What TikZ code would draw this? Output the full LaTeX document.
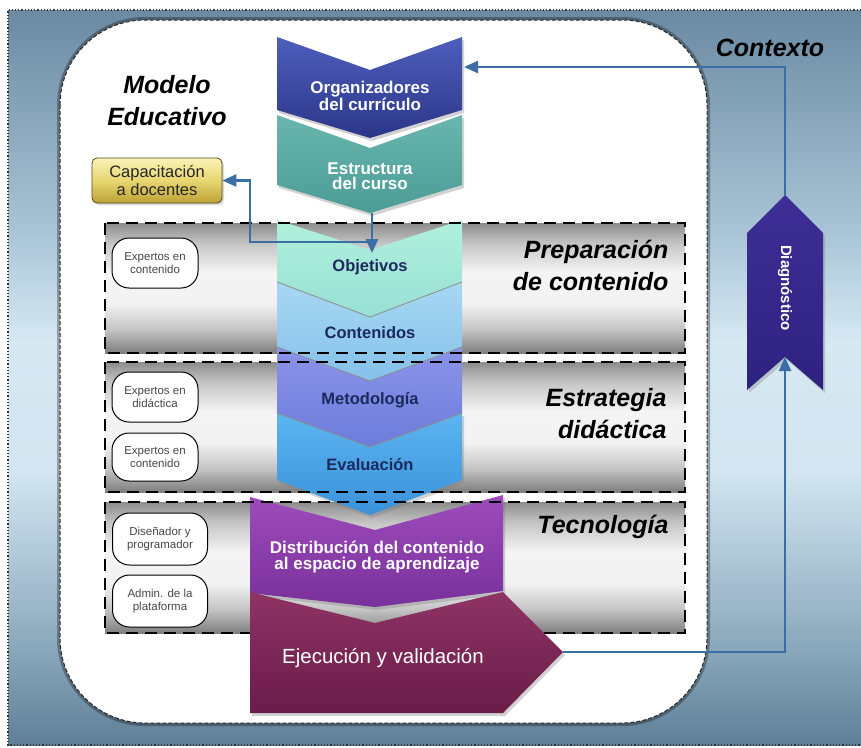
\documentclass[tikz,border=0pt]{standalone}
\usepackage{fontspec}
\setmainfont{Liberation Sans}
\usetikzlibrary{shadows,arrows.meta}
\definecolor{bgA}{HTML}{5F7F97}
\definecolor{bgB}{HTML}{89A7BB}
\definecolor{bgC}{HTML}{D2E5F0}
\definecolor{bgD}{HTML}{D6E8F2}
\definecolor{bgE}{HTML}{A8C4D6}
\definecolor{bgF}{HTML}{6B8AA2}
\definecolor{gA}{HTML}{7E7E7E}
\definecolor{gB}{HTML}{C4C4C4}
\definecolor{gC}{HTML}{F2F2F2}
\definecolor{gD}{HTML}{F4F4F4}
\definecolor{gE}{HTML}{C6C6C6}
\definecolor{gF}{HTML}{8C8C8C}
\pgfdeclareverticalshading{bgshade}{100bp}{color(0bp)=(bgA); color(25bp)=(bgA); color(31.5bp)=(bgB); color(43.5bp)=(bgC); color(52.5bp)=(bgD); color(60bp)=(bgE); color(75bp)=(bgF); color(100bp)=(bgF)}
\pgfdeclareverticalshading{bandshade}{100bp}{color(0bp)=(gA); color(25bp)=(gA); color(34bp)=(gB); color(44bp)=(gC); color(56bp)=(gD); color(67bp)=(gE); color(75bp)=(gF); color(100bp)=(gF)}
\definecolor{arrowblue}{HTML}{3A6EA5}
\definecolor{navytext}{HTML}{1B2A5C}
\definecolor{orgT}{HTML}{4E5EBC}\definecolor{orgB}{HTML}{2B3688}
\definecolor{estT}{HTML}{68B6AE}\definecolor{estB}{HTML}{4C9C96}
\definecolor{objT}{HTML}{B0F0DC}\definecolor{objB}{HTML}{98E0D4}
\definecolor{conT}{HTML}{A8D8F2}\definecolor{conB}{HTML}{84C0EA}
\definecolor{metT}{HTML}{8C94EA}\definecolor{metB}{HTML}{6C7CDA}
\definecolor{evaT}{HTML}{5CB4F0}\definecolor{evaB}{HTML}{3A92DA}
\definecolor{disT}{HTML}{9E4CBC}\definecolor{disB}{HTML}{78309A}
\definecolor{ejeT}{HTML}{8E3464}\definecolor{ejeB}{HTML}{6A1C48}
\definecolor{diaT}{HTML}{3E2E96}\definecolor{diaB}{HTML}{2E2280}
\definecolor{capT}{HTML}{FAF3B8}\definecolor{capM}{HTML}{E8D670}\definecolor{capB}{HTML}{BCA236}
\tikzset{
  arr/.style={draw=arrowblue, line width=2.4pt, -{Triangle[length=14pt,width=12pt]}},
  bandfill/.style={shading=bandshade},
  bandline/.style={draw=black, line width=2.5pt, dash pattern=on 12pt off 7pt},
  chevshadow/.style={drop shadow={shadow xshift=2pt,shadow yshift=-3pt,opacity=0.35}},
  sepline/.style={draw=black!45, line width=0.8pt},
  wtxt/.style={text=white, font=\bfseries\fontsize{17}{15.5}\selectfont, align=center},
  dtxt/.style={text=navytext, font=\bfseries\fontsize{16.5}{16}\selectfont, align=center},
  titletxt/.style={font=\bfseries\itshape\fontsize{25}{32}\selectfont},
  pill/.style={draw=black, line width=1pt, fill=white, rounded corners=17pt,
    text=black!72, font=\fontsize{11.5}{13.5}\selectfont, align=center, inner sep=0pt},
}
\begin{document}
\begin{tikzpicture}[x=1pt,y=-1pt]
\useasboundingbox (0,0) rectangle (861,747);
% outer background
\shade[shading=bgshade] (8,10) rectangle (861,745);
\draw[black!80, line width=1.2pt, dotted] (861,10) -- (8,10) -- (8,745) -- (861,745);
% white rounded panel
\draw[black, opacity=0.3, line width=6pt, rounded corners=85pt] (60,20) rectangle (707,723);
\fill[white, rounded corners=85pt] (60,20) rectangle (707,723);
\draw[black!85, line width=1pt, dash pattern=on 4pt off 2pt, rounded corners=85pt] (60,20) rectangle (707,723);
% bands
\shade[bandfill] (105,223) rectangle (685,353);
\shade[bandfill] (105,362) rectangle (685,492);
\shade[bandfill] (105,502) rectangle (685,633);
% chevrons
\path[chevshadow, top color=estT, bottom color=estB] (277,115) -- (370,148) -- (462,115) -- (462,185) -- (370,213) -- (277,185) -- cycle;
\path[chevshadow, top color=orgT, bottom color=orgB] (277,37) -- (370,70) -- (462,37) -- (462,110) -- (370,138) -- (277,110) -- cycle;
\path[chevshadow, top color=evaT, bottom color=evaB] (277,413) -- (370,447) -- (462,413) -- (462,480) -- (370,515) -- (277,480) -- cycle;
\path[top color=metT, bottom color=metB] (277,347) -- (370,381) -- (462,347) -- (462,413) -- (370,447) -- (277,413) -- cycle;
\path[top color=conT, bottom color=conB] (277,282) -- (370,317) -- (462,282) -- (462,347) -- (370,381) -- (277,347) -- cycle;
\path[top color=objT, bottom color=objB] (277,220) -- (370,250) -- (462,220) -- (462,282) -- (370,317) -- (277,282) -- cycle;
\draw[sepline] (277,282) -- (370,317) -- (462,282);
\draw[sepline] (277,347) -- (370,381) -- (462,347);
\draw[sepline] (277,413) -- (370,447) -- (462,413);
\path[chevshadow, top color=disT, bottom color=disB] (250,497) -- (375,530) -- (503,495) -- (503,591) -- (375,607) -- (250,593) -- cycle;
% band borders
\draw[bandline] (105,223) rectangle (685,353);
\draw[bandline] (105,362) rectangle (685,492);
\draw[bandline] (105,502) rectangle (685,633);
% execution arrow
\path[chevshadow, top color=ejeT, bottom color=ejeB] (250,592) -- (375,623) -- (503,592) -- (563,652) -- (503,713) -- (250,713) -- cycle;
% diagnostico
\path[chevshadow, top color=diaT, bottom color=diaB] (785,195) -- (823,233) -- (823,390) -- (785,357) -- (747,390) -- (747,233) -- cycle;
% texts in chevrons
\node[wtxt] (org) at (370,96) {Organizadores\\del currículo};
\node[wtxt] (est) at (370,176) {Estructura\\del curso};
\node[dtxt] (obj) at (370,267) {Objetivos};
\node[dtxt] (con) at (370,333) {Contenidos};
\node[dtxt] (met) at (370,400) {Metodología};
\node[dtxt] (eva) at (370,465) {Evaluación};
\node[wtxt] (dis) at (377,557) {Distribución del contenido\\al espacio de aprendizaje};
\node[text=white, font=\fontsize{20.5}{24}\selectfont] (eje) at (383,658) {Ejecución y validación};
\node[text=white, font=\bfseries\fontsize{15}{16}\selectfont, rotate=-90] (dia) at (785,288) {Diagnóstico};
% titles
\node[titletxt, align=center] (modelo) at (167,101) {Modelo\\Educativo};
\node[titletxt] (contexto) at (770,48) {Contexto};
\node[titletxt, align=right, anchor=east] (prep) at (672,265) {Preparación\\de contenido};
\node[titletxt, align=right, anchor=east] (estr) at (670,414) {Estrategia\\didáctica};
\node[titletxt, anchor=east] (tecno) at (672,527) {Tecnología};
% capacitacion box
\node[draw=black!55!capB, line width=0.8pt, rounded corners=5pt, top color=capT, bottom color=capB, middle color=capM,
  minimum width=130pt, minimum height=45pt, inner sep=0pt, align=center, text=black!85,
  font=\fontsize{16.5}{17.5}\selectfont, drop shadow={shadow xshift=2pt,shadow yshift=-2pt,opacity=0.3}] (cap) at (157,180.5) {Capacitación\\a docentes};
% pills
\node[pill, minimum width=86pt, minimum height=50pt] (p1) at (155,263) {Expertos en\\contenido};
\node[pill, minimum width=86pt, minimum height=50pt] (p2) at (155,397) {Expertos en\\didáctica};
\node[pill, minimum width=86pt, minimum height=48pt] (p3) at (155,457) {Expertos en\\contenido};
\node[pill, minimum width=95pt, minimum height=52pt] (p4) at (160,539) {Diseñador y\\programador};
\node[pill, minimum width=95pt, minimum height=52pt] (p5) at (160,601) {Admin. de la\\plataforma};
% connectors
\coordinate (estTip) at (372,213);
\coordinate (objTop) at (372,253);
\coordinate (branch) at (372,242);
\coordinate (bend) at (250,242);
\coordinate (ejeTip) at (563,652);
\coordinate (diaNotch) at (785,357);
\coordinate (diaTop) at (785,195);
\coordinate (orgE) at (464,67);
\draw[arr] (estTip) -- (objTop);
\draw[arr] (branch) -- (bend) |- (cap.east);
\draw[arr] (ejeTip) -| (diaNotch);
\draw[arr] (diaTop) |- (orgE);
\end{tikzpicture}
\end{document}
